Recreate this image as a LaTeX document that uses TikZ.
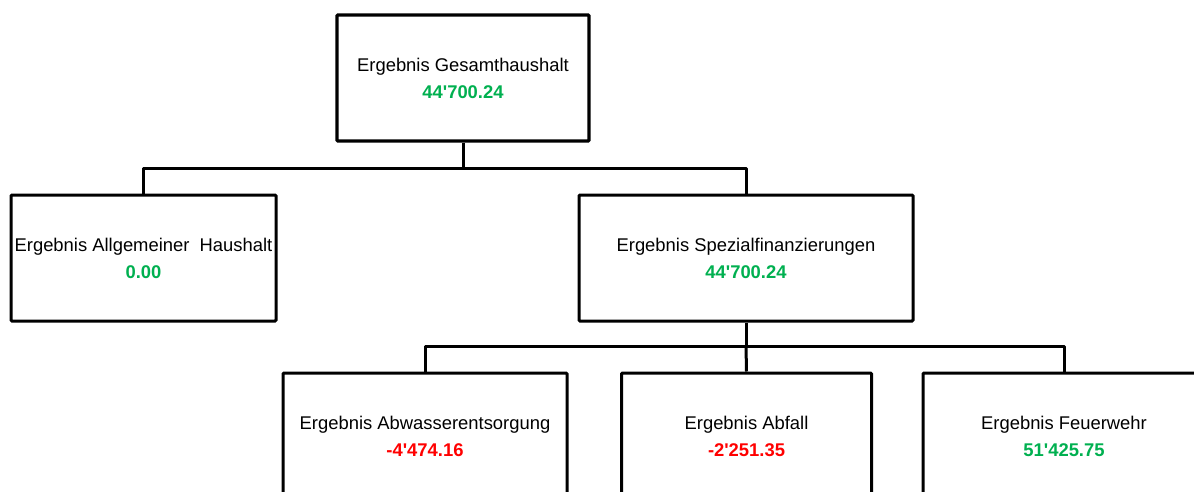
\documentclass[tikz,border=0pt]{standalone}
\usepackage{fontspec}
\setmainfont{Liberation Sans}
\definecolor{posgreen}{RGB}{0,176,80}
\definecolor{negred}{RGB}{255,0,0}
\newcommand{\sq}{\textquotesingle}
\begin{document}
\begin{tikzpicture}[x=1pt,y=-1pt,
  box/.style={draw=black, line width=3pt, fill=white, rounded corners=1pt, inner sep=0pt,
    align=center, font=\fontsize{18.4}{27}\selectfont},
  link/.style={draw=black, line width=3pt, line join=round}]
\useasboundingbox (0,0) rectangle (1194,491);
\clip (0,0) rectangle (1194,491);
\node[box, minimum width=252pt, minimum height=126pt, line width=3.4pt] (top) at (463,78)
  {Ergebnis Gesamthaushalt\\\textbf{\color{posgreen}44\sq700.24}};
\node[box, minimum width=265pt, minimum height=126pt] (allg) at (143.5,258)
  {Ergebnis Allgemeiner\ \ Haushalt\\\textbf{\color{posgreen}0.00}};
\node[box, minimum width=334pt, minimum height=126pt] (spez) at (746,258)
  {Ergebnis Spezialfinanzierungen\\\textbf{\color{posgreen}44\sq700.24}};
\node[box, minimum width=284pt, minimum height=126pt] (abw) at (425,436)
  {Ergebnis Abwasserentsorgung\\\textbf{\color{negred}-4\sq474.16}};
\node[box, minimum width=250pt, minimum height=126pt] (abf) at (746.5,436)
  {Ergebnis Abfall\\\textbf{\color{negred}-2\sq251.35}};
\node[box, minimum width=282pt, minimum height=126pt] (feu) at (1064,436)
  {Ergebnis Feuerwehr\\\textbf{\color{posgreen}51\sq425.75}};
\coordinate (j1) at (463,168);
\coordinate (j2) at (746,346);
\draw[link] (top.south) -- (j1);
\draw[link] (j1) -| (allg.north);
\draw[link] (j1) -| (spez.north);
\draw[link] (spez.south) -- (j2);
\draw[link] (j2) -| (abw.north);
\draw[link] (j2) -- (abf.north);
\draw[link] (j2) -| (feu.north);
\end{tikzpicture}
\end{document}
